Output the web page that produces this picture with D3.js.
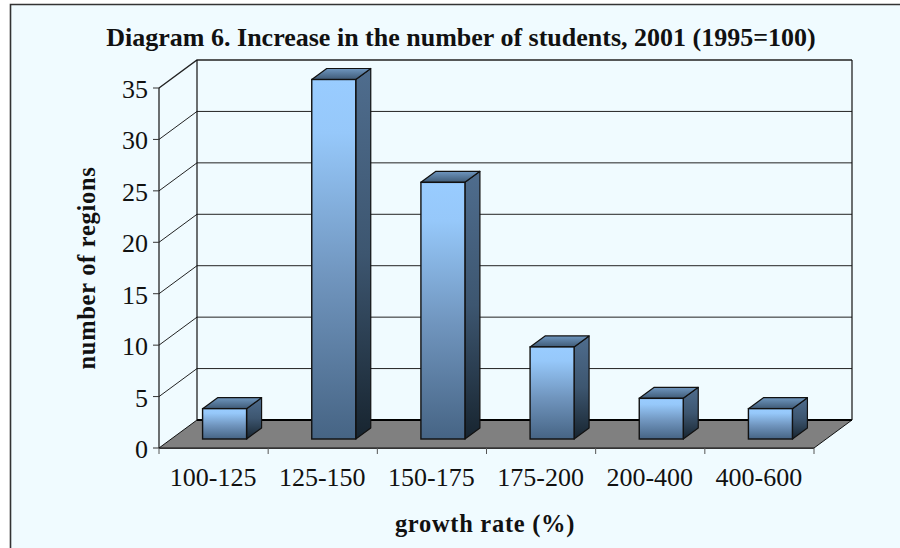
<!DOCTYPE html>
<html><head><meta charset="utf-8">
<script src="https://cdn.jsdelivr.net/npm/d3@7"></script>
<style>html,body{margin:0;padding:0;background:#fff;overflow:hidden}svg{display:block}text{font-family:"Liberation Serif",serif;fill:#111}</style>
</head><body><svg id="c" width="900" height="548"></svg>
<script>
const categories = ["100-125","125-150","150-175","175-200","200-400","400-600"];
const values = [3,35,25,9,4,3];
const yTicks = [0,5,10,15,20,25,30,35];
const titleText = "Diagram 6. Increase in the number of students, 2001 (1995=100)";
const xTitle = "growth rate (%)";
const yTitle = "number of regions";

const svg = d3.select("#c");
const x = d3.scaleBand().domain(categories).range([159,814]).paddingInner(0).paddingOuter(0);
const y = d3.scaleLinear().domain([0,35]).range([448,88]);
const DX = 38, DY = -28;            // full depth of the floor
const BD = 11, BDY = -9;            // front face offset into the depth
const SX = 15, SY = -11;            // bar side depth
const BW = 44;

const defs = svg.append("defs");
function grad(id, stops){
  const g = defs.append("linearGradient").attr("id",id).attr("x1",0).attr("y1",0).attr("x2",0).attr("y2",1);
  stops.forEach(s=>g.append("stop").attr("offset",s[0]).attr("stop-color",s[1]));
}
grad("front",[[0,"#99CCFF"],[0.15,"#96C8FA"],[0.55,"#7095BE"],[1,"#466484"]]);
grad("side",[[0,"#4F6D8E"],[0.5,"#3D5670"],[1,"#17242F"]]);
grad("top",[[0,"#6F97C0"],[1,"#3F5A76"]]);

// plot background
svg.append("rect").attr("x",10).attr("y",4.5).attr("width",890).attr("height",544).attr("fill","#F0FBFF");
svg.append("path").attr("d","M10.5,548V4.5H900").attr("fill","none").attr("stroke","#333").attr("stroke-width",1.6);

// floor
const x0 = x.range()[0], x1 = x.range()[1], y0 = y(0), yT = y(35);
svg.append("path").attr("d",`M${x0},${y0}L${x0+DX},${y0+DY}H${x1+DX}L${x1},${y0}Z`).attr("fill","#808080").attr("stroke","#111").attr("stroke-width",1);
svg.append("line").attr("x1",x0+DX).attr("x2",x1+DX).attr("y1",y0+DY).attr("y2",y0+DY).attr("stroke","#000").attr("stroke-width",2);

// gridlines on back and side wall
const gridG = svg.append("g");
yTicks.filter(d=>d>0).forEach(d=>{
  gridG.append("path").attr("d",`M${x0},${y(d)}L${x0+DX},${y(d)+DY}H${x1+DX}`)
    .attr("fill","none").attr("stroke","#222").attr("stroke-width",d===35?1.4:1);
});
// walls frame
svg.append("path").attr("d",`M${x0+DX},${y0+DY}V${yT+DY}`).attr("stroke","#111").attr("stroke-width",1.2);
svg.append("path").attr("d",`M${x1+DX},${y0+DY}V${yT+DY}`).attr("stroke","#111").attr("stroke-width",1.2);
svg.append("path").attr("d",`M${x0},${y0}V${yT}`).attr("stroke","#111").attr("stroke-width",1.2);

// axis ticks and labels
const yg = svg.append("g");
yTicks.forEach(d=>{
  yg.append("line").attr("x1",x0-6).attr("x2",x0).attr("y1",y(d)).attr("y2",y(d)).attr("stroke","#333");
  yg.append("text").attr("x",x0-11).attr("y",y(d)+10).attr("text-anchor","end").attr("font-size",26).text(d);
});
const xg = svg.append("g");
xg.append("line").attr("x1",x0).attr("x2",x1).attr("y1",y0+.5).attr("y2",y0+.5).attr("stroke","#333");
categories.concat([null]).forEach((c,i)=>{
  const px = x0 + i*x.step();
  xg.append("line").attr("x1",px).attr("x2",px).attr("y1",y0).attr("y2",y0+6).attr("stroke","#555");
});
categories.forEach(c=>{
  xg.append("text").attr("x",x(c)+x.bandwidth()/2-.5).attr("y",486).attr("text-anchor","middle")
    .attr("font-size",26).text(c);
});

// bars
const bars = svg.append("g").selectAll("g").data(values).join("g");
const bx = (d,i)=> x(categories[i]) + x.bandwidth()/2 + BD - BW/2;
const by = d => y(d) + BDY + 0.5;
const bb = y(0) + BDY;
bars.append("path").attr("fill","url(#side)").attr("stroke","#111").attr("stroke-width",1.2).attr("stroke-linejoin","round")
  .attr("d",(d,i)=>`M${bx(d,i)+BW},${by(d)}l${SX},${SY}V${bb+SY}l${-SX},${-SY}Z`);
bars.append("path").attr("fill","url(#top)").attr("stroke","#111").attr("stroke-width",1.2).attr("stroke-linejoin","round")
  .attr("d",(d,i)=>`M${bx(d,i)},${by(d)}l${SX},${SY}h${BW}l${-SX},${-SY}Z`);
bars.append("rect").attr("fill","url(#front)").attr("stroke","#111").attr("stroke-width",1.4)
  .attr("x",bx).attr("y",by).attr("width",BW).attr("height",d=>bb-by(d));

// titles
svg.append("text").attr("x",461).attr("y",46).attr("text-anchor","middle").attr("font-size",26).attr("font-weight","bold").text(titleText);
svg.append("text").attr("x",485).attr("y",532).attr("text-anchor","middle").attr("font-size",24.5).attr("font-weight","bold").attr("letter-spacing",0.7).text(xTitle);
svg.append("text").attr("transform","translate(95,268) rotate(-90)").attr("text-anchor","middle").attr("font-size",24.5).attr("font-weight","bold").attr("letter-spacing",0.7).text(yTitle);
</script></body></html>
